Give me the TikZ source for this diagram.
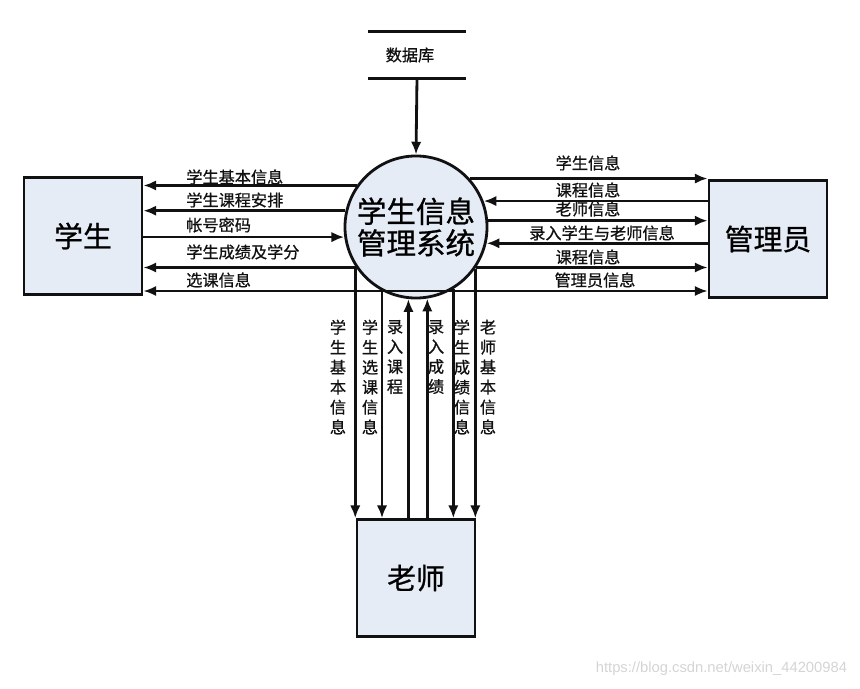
\documentclass[tikz,border=0pt]{standalone}
\usepackage{fontspec}
\setmainfont{Noto Sans CJK SC}[FakeBold=0.8]
\newfontfamily\latinsans{Liberation Sans}
\usetikzlibrary{arrows.meta, positioning}
\definecolor{inkblack}{HTML}{111111}
\definecolor{paleblue}{HTML}{E6ECF6}
\definecolor{marklight}{HTML}{D4D4D4}
\tikzset{
  entity/.style={rectangle, draw=inkblack, line width=2pt, fill=paleblue,
    minimum width=2.95cm, minimum height=2.92cm, font=\fontsize{20.5}{24}\selectfont},
  process/.style={circle, draw=inkblack, line width=2pt, fill=paleblue,
    minimum size=3.55cm, inner sep=0pt, align=center,
    font=\fontsize{21}{22.7}\selectfont},
  flow/.style={-{Latex[length=3.2mm, width=2.6mm]}, line width=2pt, inkblack},
  plain/.style={line width=2pt, inkblack},
  lbl/.style={font=\fontsize{11.5}{14.2}\selectfont, inner sep=0pt, text=inkblack},
  vlbl/.style={lbl, align=center},
}

\begin{document}
\begin{tikzpicture}[x=0.025cm, y=-0.025cm]
\useasboundingbox (0,0) rectangle (860,689);

% entities and the process
\node[entity] (stu) at (83,236) {学生};
\node[entity] (adm) at (768,239) {管理员};
\node[entity] (tea) at (416,578) {老师};
\node[process] (sys) at (416,227) {\raisebox{-4pt}{\shortstack{学生信息\\管理系统}}};

% data store
\node[lbl, minimum width=2.42cm, minimum height=1.15cm] (db) at (417,55) {数据库\kern10pt};
\draw[plain] (db.north west) -- (db.north east);
\draw[plain] (db.south west) -- (db.south east);
\draw[flow] (db.south) -- (sys.north);

% student side
\draw[flow] (sys.145.7) -- (sys.145.7 -| stu.east);
\draw[flow] (sys.167) -- (sys.167 -| stu.east);
\draw[flow] (sys.188.9 -| stu.east) -- (sys.188.9);
\draw[flow] (sys.214.3) -- (sys.214.3 -| stu.east);
\node[lbl, anchor=west] (s1) at (186,177) {学生基本信息};
\node[lbl, anchor=west] (s2) at (186,200) {学生课程安排};
\node[lbl, anchor=west] (s3) at (186,225) {帐号密码};
\node[lbl, anchor=west] (s4) at (186,252) {学生成绩及学分};
\node[lbl, anchor=west] (s5) at (186,280) {选课信息};

% admin side
\draw[flow] (sys.42.5) -- (sys.42.5 -| adm.west);
\draw[flow] (sys.21.5 -| adm.west) -- (sys.21.5);
\draw[flow] (sys.5.7) -- (sys.5.7 -| adm.west);
\draw[flow] (sys.-13.9 -| adm.west) -- (sys.-13.9);
\draw[flow] (sys.-34.3) -- (sys.-34.3 -| adm.west);
\node[lbl] (a1) at (588,163) {学生信息};
\node[lbl] (a2) at (588,190) {课程信息};
\node[lbl] (a3) at (588,209) {老师信息};
\node[lbl] (a4) at (602,233) {录入学生与老师信息};
\node[lbl] (a5) at (588,257) {课程信息};
\node[lbl] (a6) at (595,280) {管理员信息};

% line through the bottom of the circle
\coordinate (mid) at (416,291);
\draw[flow] (mid) -- (mid -| stu.east);
\draw[flow] (mid) -- (mid -| adm.west);

% teacher side
\draw[flow] (sys.213.8) -- (sys.213.8 |- tea.north);
\draw[flow] (sys.-118.6) -- (sys.-118.6 |- tea.north);
\draw[flow] (sys.-96.5 |- tea.north) -- (sys.-96.5);
\draw[flow] (sys.-81.9 |- tea.north) -- (sys.-81.9);
\draw[flow] (sys.-59.5) -- (sys.-59.5 |- tea.north);
\draw[flow] (sys.-35.2) -- (sys.-35.2 |- tea.north);
\node[vlbl] (t1) at (338,377) {学\\生\\基\\本\\信\\息};
\node[vlbl] (t2) at (370,377) {学\\生\\选\\课\\信\\息};
\node[vlbl] (t3) at (395,357) {录\\入\\课\\程};
\node[vlbl] (t4) at (436,357) {录\\入\\成\\绩};
\node[vlbl] (t5) at (462,377) {学\\生\\成\\绩\\信\\息};
\node[vlbl] (t6) at (488,377) {老\\师\\基\\本\\信\\息};

\node[font=\latinsans\fontsize{10.5}{12}\selectfont, text=marklight, anchor=east] (wm) at (852,669) {https://blog.csdn.net/weixin\_44200984};
\end{tikzpicture}
\end{document}
